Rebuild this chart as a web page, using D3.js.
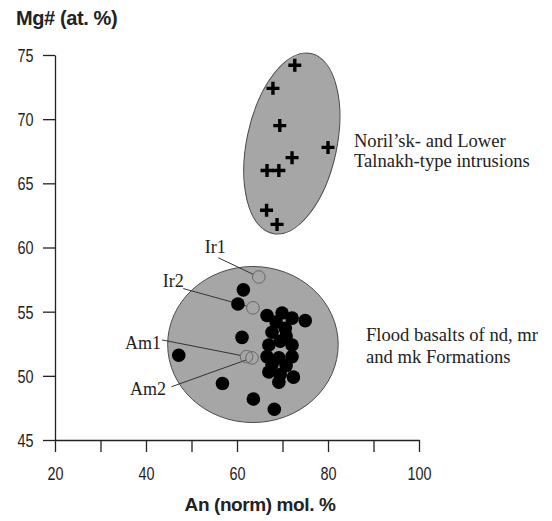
<!DOCTYPE html>
<html>
<head>
<meta charset="utf-8">
<script src="https://cdn.jsdelivr.net/npm/d3@7"></script>
<style>
  body { margin: 0; background: #fff; }
  svg { display: block; }
</style>
</head>
<body>
<script>
let width = 552;
let height = 521;

// axis ticks
let xTicks = [20, 30, 40, 50, 60, 70, 80, 90, 100];
let xTickLabels = [20, 40, 60, 80, 100];
let yTicks = [45, 50, 55, 60, 65, 70, 75];

// Noril'sk / Lower Talnakh intrusions (An, Mg#)
let intrusionAn = [72.7, 67.9, 69.4, 80.0, 72.1, 66.6, 69.2, 66.5, 68.8];
let intrusionMg = [74.2, 72.4, 69.5, 67.8, 67.0, 66.0, 66.0, 62.9, 61.8];

// flood basalts nd, mr, mk (An, Mg#)
let basaltAn = [61.4, 60.2, 61.1, 47.2, 56.8, 63.6, 68.2, 72.4, 75.0, 66.6, 69.9, 72.1,
                67.7, 70.6, 67.0, 69.5, 72.1, 66.6, 69.2, 72.1, 67.0, 69.5, 69.2,
                68.6, 70.8, 70.8, 67.7];
let basaltMg = [56.7, 55.6, 53.0, 51.6, 49.4, 48.2, 47.4, 49.9, 54.3, 54.7, 54.9, 54.5,
                53.4, 53.7, 52.4, 52.7, 52.4, 51.5, 51.4, 51.5, 50.3, 50.1, 49.5,
                54.2, 53.1, 50.8, 50.9];

// labelled samples (open circles)
let sampleNames = ["Ir1", "Ir2", "Am1", "Am2"];
let sampleAn = [64.8, 63.5, 62.1, 63.3];
let sampleMg = [57.7, 55.3, 51.5, 51.4];

// field outlines: centre (An, Mg#), half widths in axis units, tilt in degrees
let fieldNames = ["intrusions", "basalts"];
let fieldAn = [72.05, 63.5];
let fieldMg = [68.1, 52.44];
let fieldRAn = [9.9, 18.74];
let fieldRMg = [7.17, 6.08];
let fieldTilt = [12, 0];

let svg = d3.select("body")
            .append("svg")
            .attr("width", width)
            .attr("height", height);

let x = d3.scaleLinear().domain([20, 100]).range([55, 419]);
let y = d3.scaleLinear().domain([45, 75]).range([440, 55]);

// grey fields
svg.append("g")
   .selectAll("ellipse")
   .data(fieldNames)
   .enter()
   .append("ellipse")
   .attr("transform", (d, i) => "translate(" + x(fieldAn[i]) + "," + y(fieldMg[i]) + ") rotate(" + fieldTilt[i] + ")")
   .attr("rx", (d, i) => x(fieldAn[i] + fieldRAn[i]) - x(fieldAn[i]))
   .attr("ry", (d, i) => y(fieldMg[i]) - y(fieldMg[i] + fieldRMg[i]))
   .attr("fill", "#a6a6a6")
   .attr("stroke", "#4a4a4a")
   .attr("stroke-width", 1);

// leader lines and labels for the open circles (label anchors in axis units)
let labelAn = [52.9, 43.7, 35.4, 36.5];
let labelMg = [59.6, 56.9, 52.1, 48.5];
let leadAn = [55.9, 48.2, 43.5, 45.6];
let leadMg = [59.2, 56.8, 52.8, 49.15];
let r0 = 6.3;

let leaders = svg.append("g");
sampleNames.forEach(function(name, i) {
  let x1 = x(leadAn[i]), y1 = y(leadMg[i]);
  let x2 = x(sampleAn[i]), y2 = y(sampleMg[i]);
  let len = Math.hypot(x2 - x1, y2 - y1);
  leaders.append("line")
         .attr("x1", x1).attr("y1", y1)
         .attr("x2", x2 - (x2 - x1) / len * r0)
         .attr("y2", y2 - (y2 - y1) / len * r0)
         .attr("stroke", "#333")
         .attr("stroke-width", 1);
  leaders.append("text")
         .attr("x", x(labelAn[i]))
         .attr("y", y(labelMg[i]))
         .attr("font-family", "Liberation Serif, Times New Roman, serif")
         .attr("font-size", 18)
         .attr("fill", "#222")
         .text(name);
});

// basalt dots
svg.append("g")
   .selectAll("circle")
   .data(basaltAn)
   .enter()
   .append("circle")
   .attr("cx", d => x(d))
   .attr("cy", (d, i) => y(basaltMg[i]))
   .attr("r", 6.8)
   .attr("fill", "#000");

// open circles
svg.append("g")
   .selectAll("circle")
   .data(sampleAn)
   .enter()
   .append("circle")
   .attr("cx", d => x(d))
   .attr("cy", (d, i) => y(sampleMg[i]))
   .attr("r", r0)
   .attr("fill", "none")
   .attr("stroke", "#666")
   .attr("stroke-width", 1);

// intrusion crosses
svg.append("g")
   .selectAll("path")
   .data(intrusionAn)
   .enter()
   .append("path")
   .attr("transform", (d, i) => "translate(" + x(d) + "," + y(intrusionMg[i]) + ")")
   .attr("d", "M-6.5,0H6.5M0,-6.5V6.5")
   .attr("stroke", "#000")
   .attr("stroke-width", 3.4);

// axes
let xAxis = svg.append("g")
   .attr("transform", "translate(0," + y(45) + ")")
   .call(d3.axisBottom(x)
           .tickValues(xTicks)
           .tickSize(12)
           .tickSizeOuter(0)
           .tickFormat(d => xTickLabels.includes(d) ? d : ""));

let yAxis = svg.append("g")
   .attr("transform", "translate(" + x(20) + ",0)")
   .call(d3.axisLeft(y)
           .tickValues(yTicks)
           .tickSize(12)
           .tickSizeOuter(0));

[xAxis, yAxis].forEach(function(a) {
  a.select(".domain").attr("stroke", "#222").attr("stroke-width", 1.3);
  a.selectAll(".tick line").attr("stroke", "#222").attr("stroke-width", 1.3);
  a.selectAll("text")
   .attr("font-family", "Liberation Sans, Arial, sans-serif")
   .attr("font-size", 18)
   .attr("fill", "#222");
});

xAxis.selectAll("text")
     .attr("y", 27)
     .attr("dy", "0.71em")
     .attr("transform", "scale(0.8,1)");

yAxis.selectAll("text")
     .attr("x", -21.5 / 0.8)
     .attr("dy", "0.36em")
     .attr("transform", "scale(0.8,1)");

// axis titles
svg.append("text")
   .attr("x", 16)
   .attr("y", 25)
   .attr("font-family", "Liberation Sans, Arial, sans-serif")
   .attr("font-weight", "bold")
   .attr("font-size", 20)
   .attr("letter-spacing", -0.4)
   .attr("fill", "#222")
   .text("Mg# (at. %)");

svg.append("text")
   .attr("x", (x(20) + x(100)) / 2 + 23)
   .attr("y", 511)
   .attr("text-anchor", "middle")
   .attr("font-family", "Liberation Sans, Arial, sans-serif")
   .attr("font-weight", "bold")
   .attr("font-size", 19)
   .attr("letter-spacing", -0.4)
   .attr("fill", "#222")
   .text("An (norm) mol. %");

// field labels
let fieldText = [["Noril\u2019sk- and Lower", "Talnakh-type intrusions"],
                 ["Flood basalts of nd, mr", "and mk Formations"]];
let fieldTextAn = [85.7, 88.35];
let fieldTextMg = [67.8, 52.7];
let lineGap = [20, 22];

fieldText.forEach(function(lines, i) {
  let t = svg.append("text")
             .attr("font-family", "Liberation Serif, Times New Roman, serif")
             .attr("font-size", 18.6)
             .attr("fill", "#222");
  lines.forEach(function(s, j) {
    t.append("tspan")
     .attr("x", x(fieldTextAn[i]))
     .attr("y", y(fieldTextMg[i]) + j * lineGap[i])
     .text(s);
  });
});
</script>
</body>
</html>
